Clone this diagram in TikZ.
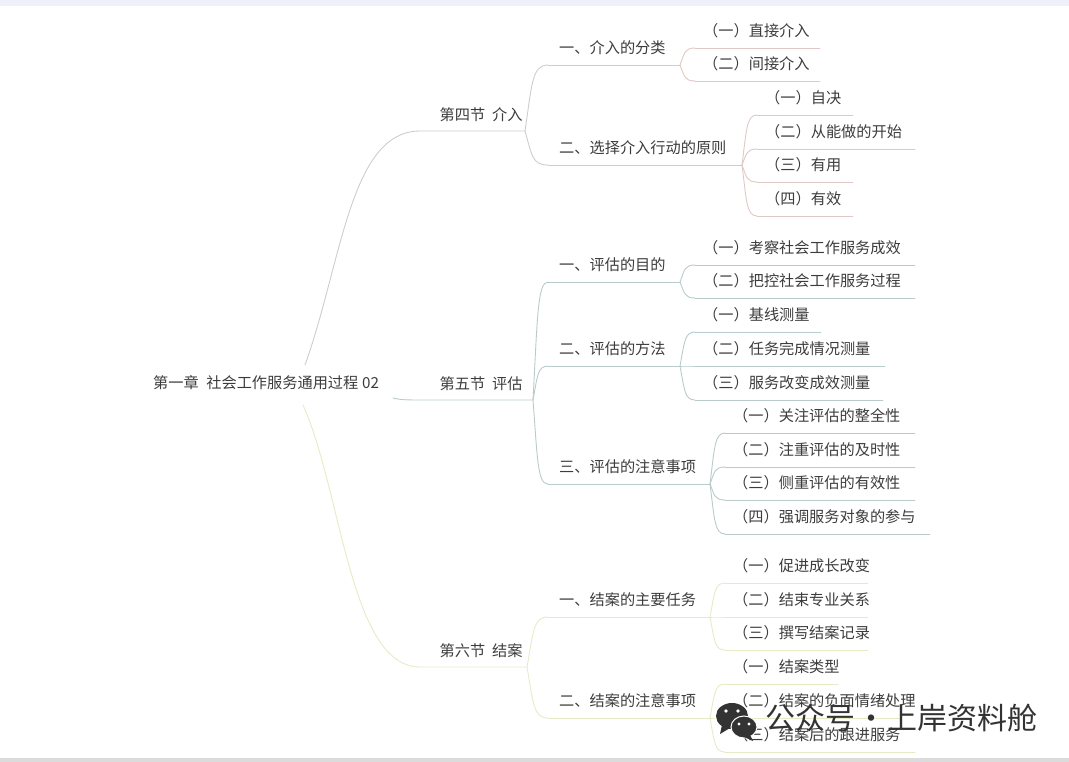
\documentclass[tikz,border=0pt]{standalone}
\usepackage{xcolor}
\usepackage{fontspec}
\setmainfont{Noto Sans CJK SC}
\usetikzlibrary{calc}
\definecolor{inkgray}{HTML}{3C3C3C}
\definecolor{markgray}{HTML}{333333}
\definecolor{topband}{HTML}{EEF1FA}
\definecolor{tanline}{HTML}{D2CCC6}
\definecolor{pinkline}{HTML}{DFC9C5}
\definecolor{tealline}{HTML}{B9CBCB}
\definecolor{limeline}{HTML}{E6EBC6}
\newcommand{\sep}{\hspace{.45em}}
% curve from a junction to the start of an underline
\newcommand{\limb}[3]{\draw[#3] let \p1=(#1),\p2=(#2) in (#1) .. controls (\x1+0.3*\x2-0.3*\x1,\y1+0.7*\y2-0.7*\y1) and (\x1+0.3*\x2-0.3*\x1,\y2) .. (#2);}

\begin{document}
\begin{tikzpicture}[x=1pt,y=-1pt,
 lbl/.style={anchor=west,inner sep=0pt,text=inkgray,font=\fontsize{15.2}{18}\selectfont},
 wmark/.style={anchor=west,inner sep=0pt,text=markgray,font=\fontsize{30}{32}\selectfont},
 ln/.style={line width=0.9pt,line cap=round}]
\useasboundingbox (0,0) rectangle (1069,762);
\fill[topband] (0,0) rectangle (1069,6);
\fill[black!14] (0,758) rectangle (1069,762);

\node[lbl] (root) at (153,383) {第一章\hspace{.5em}社会工作服务通用过程\hspace{.25em}02};
\coordinate (rootu) at (305,365);
\coordinate (rootm) at (393,398);
\coordinate (rootd) at (303,405);

% sections
\foreach \nm/\l/\e/\t in {sa/131/525/第四节\sep 介入,sb/400/533/第五节\sep 评估,sc/667/527/第六节\sep 结案}{
 \coordinate (\nm s) at (420,\l);
 \coordinate (\nm e) at (\e,\l);
 \node[lbl] (\nm) at (439.5,\l-16.5) {\t};
}
\draw[ln,tanline] (rootu) .. controls (342,262) and (350,131) .. (sas)--(sae);
\draw[ln,tealline] (rootm) .. controls (400,400) and (410,400) .. (sbs)--(sbe);
\draw[ln,limeline] (rootd) .. controls (342,492) and (350,667) .. (scs)--(sce);

% section four
\foreach \nm/\j/\l/\e/\t in {sa1/sae/65/680/一、介入的分类,sa2/sae/165/742/二、选择介入行动的原则}{
 \coordinate (\nm s) at (548,\l);
 \coordinate (\nm e) at (\e,\l);
 \node[lbl] (\nm) at (559,\l-17) {\t};
 \limb{\j}{\nm s}{ln,tanline}
 \draw[ln,tanline] (\nm s)--(\nm e);
}
\foreach \nm/\j/\s/\l/\e/\t in {sa1a/sa1e/695/48/820/（一）直接介入,sa1b/sa1e/695/81/820/（二）间接介入,
 sa2a/sa2e/757/115/853/（一）自决,sa2b/sa2e/757/149/915/（二）从能做的开始,
 sa2c/sa2e/757/182/853/（三）有用,sa2d/sa2e/757/216/853/（四）有效}{
 \coordinate (\nm s) at (\s,\l);
 \coordinate (\nm e) at (\e,\l);
 \node[lbl] (\nm) at (\s+8,\l-17) {\t};
 \limb{\j}{\nm s}{ln,pinkline}
 \draw[ln,pinkline] (\nm s)--(\nm e);
}

% section five
\foreach \nm/\j/\l/\e/\t in {sb1/sbe/282/680/一、评估的目的,sb2/sbe/366/680/二、评估的方法,sb3/sbe/484/710/三、评估的注意事项}{
 \coordinate (\nm s) at (548,\l);
 \coordinate (\nm e) at (\e,\l);
 \node[lbl] (\nm) at (559,\l-17) {\t};
 \limb{\j}{\nm s}{ln,tealline}
 \draw[ln,tealline] (\nm s)--(\nm e);
}
\foreach \nm/\j/\s/\l/\e/\t in {sb1a/sb1e/695/265/915/（一）考察社会工作服务成效,sb1b/sb1e/695/298/915/（二）把控社会工作服务过程,
 sb2a/sb2e/695/332/821/（一）基线测量,sb2b/sb2e/695/366/885/（二）任务完成情况测量,sb2c/sb2e/695/400/883/（三）服务改变成效测量,
 sb3a/sb3e/725/433/915/（一）关注评估的整全性,sb3b/sb3e/725/467/915/（二）注重评估的及时性,
 sb3c/sb3e/725/500/915/（三）侧重评估的有效性,sb3d/sb3e/725/534/930/（四）强调服务对象的参与}{
 \coordinate (\nm s) at (\s,\l);
 \coordinate (\nm e) at (\e,\l);
 \node[lbl] (\nm) at (\s+8,\l-17) {\t};
 \limb{\j}{\nm s}{ln,tealline}
 \draw[ln,tealline] (\nm s)--(\nm e);
}

% section six
\foreach \nm/\j/\l/\e/\t in {sc1/sce/617/710/一、结案的主要任务,sc2/sce/718/710/二、结案的注意事项}{
 \coordinate (\nm s) at (548,\l);
 \coordinate (\nm e) at (\e,\l);
 \node[lbl] (\nm) at (559,\l-17) {\t};
 \limb{\j}{\nm s}{ln,limeline}
 \draw[ln,limeline] (\nm s)--(\nm e);
}
\foreach \nm/\j/\s/\l/\e/\t in {sc1a/sc1e/725/583/868/（一）促进成长改变,sc1b/sc1e/725/617/868/（二）结束专业关系,sc1c/sc1e/725/650/868/（三）撰写结案记录,
 sc2a/sc2e/725/684/838/（一）结案类型,sc2b/sc2e/725/718/900/（二）结案的负面情绪处理,sc2c/sc2e/725/752/915/（三）结案后的跟进服务}{
 \coordinate (\nm s) at (\s,\l);
 \coordinate (\nm e) at (\e,\l);
 \node[lbl] (\nm) at (\s+8,\l-17) {\t};
 \limb{\j}{\nm s}{ln,limeline}
 \draw[ln,limeline] (\nm s)--(\nm e);
}

% watermark
\fill[markgray] (732,716) ellipse (16 and 13);
\fill[markgray] (722,725)--(720,734)--(730,728)--cycle;
\fill[white] (726,711) circle (1.8) (738,711) circle (1.8);
\filldraw[markgray,draw=white,line width=1pt] (744,727) ellipse (13 and 11);
\fill[markgray] (750,735)--(753,741)--(744,737)--cycle;
\fill[white] (739,724) circle (1.6) (749,724) circle (1.6);
\node[wmark] (wm) at (765,718) {公众号\hspace{1pt}·\hspace{1pt}上岸资料舱};
\end{tikzpicture}
\end{document}
